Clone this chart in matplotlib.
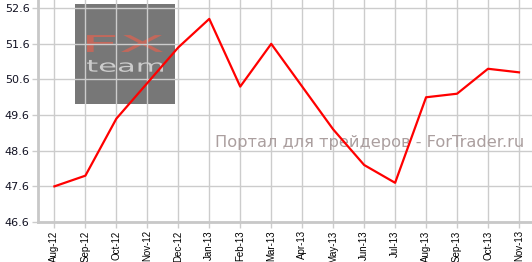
import matplotlib.pyplot as plt
from matplotlib.patches import Rectangle, PathPatch
from matplotlib.textpath import TextPath
from matplotlib.font_manager import FontProperties
from matplotlib.transforms import Affine2D

# monthly values
months = ["Aug-12", "Sep-12", "Oct-12", "Nov-12", "Dec-12", "Jan-13", "Feb-13", "Mar-13",
          "Apr-13", "May-13", "Jun-13", "Jul-13", "Aug-13", "Sep-13", "Oct-13", "Nov-13"]
values = [47.6, 47.9, 49.5, 50.5, 51.5, 52.3, 50.4, 51.6,
          50.4, 49.2, 48.2, 47.7, 50.1, 50.2, 50.9, 50.8]
yticks = [46.6, 47.6, 48.6, 49.6, 50.6, 51.6, 52.6]


def fitted_text(ax, s, box, color, zorder):
    """Stretch a text path so it fills box=(x0, y0, x1, y1) in axes coords."""
    tp = TextPath((0, 0), s, size=1, prop=FontProperties(family="DejaVu Sans"))
    ext = tp.get_extents()
    x0, y0, x1, y1 = box
    tr = (Affine2D().translate(-ext.x0, -ext.y0)
          .scale((x1 - x0) / ext.width, (y1 - y0) / ext.height)
          .translate(x0, y0))
    ax.add_patch(PathPatch(tr.transform_path(tp), transform=ax.transAxes,
                           facecolor=color, edgecolor="none", zorder=zorder))


fig = plt.figure(figsize=(5.32, 2.62), dpi=100)
ax = fig.add_axes([38 / 532, 40 / 262, 494 / 532, 222 / 262])

x = list(range(len(months)))
ax.plot(x, values, color="#ff0000", linewidth=1.6, zorder=3)

ax.set_xlim(-0.53, 15.42)
ax.set_ylim(46.6, 52.83)
ax.set_xticks(x)
ax.set_xticklabels(months, rotation=90, fontsize=7, family="Liberation Sans")
ax.set_yticks(yticks)
ax.set_yticklabels([f"{v:.1f}" for v in yticks], fontsize=8, family="DejaVu Sans",
                   color="#111122")
ax.grid(True, color="#cccccc", linewidth=1)
ax.tick_params(axis="both", length=4.5, color="#cccccc", width=1, pad=1.5)

for side in ["top", "right"]:
    ax.spines[side].set_visible(False)
for side in ["left", "bottom"]:
    ax.spines[side].set_color("#c8c8c8")
    ax.spines[side].set_linewidth(2)

# logo block behind the grid
ax.add_patch(Rectangle((0.0749, 0.5315), 0.2024, 0.4505, transform=ax.transAxes,
                       facecolor="#777777", edgecolor="none", zorder=1))
fitted_text(ax, "FX", (0.0992, 0.766, 0.253, 0.842), "#c2685b", 1.2)
fitted_text(ax, "team", (0.0992, 0.676, 0.253, 0.730), "#cccccc", 1.2)

# watermark
ax.text(0.985, 0.36, "Портал для трейдеров - ForTrader.ru", transform=ax.transAxes,
        ha="right", va="center", fontsize=11.7, color="#ab9f9f", zorder=2)

fig.savefig("out.png", dpi=100)
